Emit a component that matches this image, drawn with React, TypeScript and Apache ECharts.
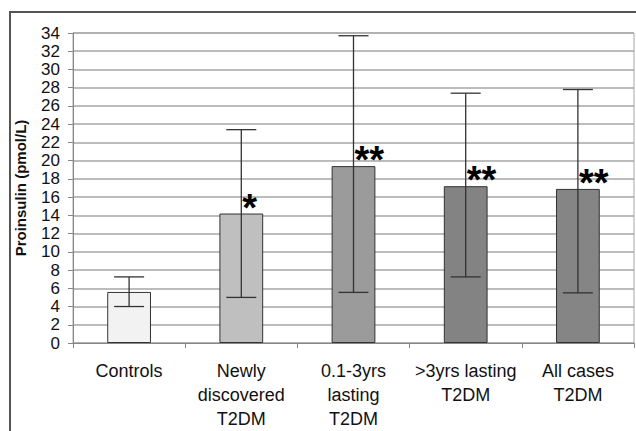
import React, { useEffect, useRef } from "react";
import * as echarts from "echarts";

const categories = [
  "Controls",
  "Newly\ndiscovered\nT2DM",
  "0.1-3yrs\nlasting\nT2DM",
  ">3yrs lasting\nT2DM",
  "All cases\nT2DM",
];
const means = [5.6, 14.2, 19.4, 17.2, 16.9];
const errLow = [4.0, 5.0, 5.55, 7.25, 5.5];
const errHigh = [7.25, 23.4, 33.7, 27.4, 27.8];
const significance = ["", "*", "**", "**", "**"];
const barColors = ["#f2f2f2", "#bfbfbf", "#9b9b9b", "#838383", "#858585"];
const yAxisTitle = "Proinsulin (pmol/L)";

const FONT = "'Liberation Sans', Arial, sans-serif";

export default function App() {
  const ref = useRef<HTMLDivElement>(null);
  useEffect(() => {
    document.body.style.margin = "0";
    const chart = echarts.init(ref.current!, null, { renderer: "svg" });
    const errStyle = { stroke: "#333", lineWidth: 1.3 };
    chart.setOption({
      animation: false,
      backgroundColor: "#ffffff",
      grid: {
        left: 73,
        right: 2,
        top: 33,
        bottom: 88,
        show: true,
        borderColor: "#a6a6a6",
        borderWidth: 1,
      },
      xAxis: {
        type: "category",
        data: categories,
        axisLine: { lineStyle: { color: "#888", width: 1 } },
        axisTick: { show: true, length: 5, lineStyle: { color: "#888" } },
        axisLabel: {
          interval: 0,
          margin: 16,
          fontSize: 18,
          lineHeight: 24,
          color: "#111",
          fontFamily: FONT,
        },
      },
      yAxis: {
        type: "value",
        min: 0,
        max: 34,
        interval: 2,
        name: yAxisTitle,
        nameLocation: "middle",
        nameRotate: 90,
        nameGap: 45,
        nameTextStyle: {
          fontSize: 15,
          fontWeight: "bold",
          color: "#111",
          fontFamily: FONT,
        },
        axisLine: { show: true, lineStyle: { color: "#888", width: 1 } },
        axisTick: { show: true, length: 5, lineStyle: { color: "#888" } },
        axisLabel: {
          margin: 13,
          fontSize: 17,
          color: "#111",
          fontFamily: FONT,
        },
        splitLine: { show: true, lineStyle: { color: "#a6a6a6", width: 1.5 } },
      },
      series: [
        {
          type: "bar",
          data: means.map((v, i) => ({
            value: v,
            itemStyle: { color: barColors[i] },
          })),
          barWidth: "39%",
          itemStyle: { borderColor: "#333", borderWidth: 1 },
          label: {
            show: true,
            formatter: (p: any) => significance[p.dataIndex],
            position: ["50%", 0],
            align: "left",
            verticalAlign: "middle",
            offset: [1, -6],
            fontSize: 38,
            fontWeight: "bold",
            color: "#000",
            fontFamily: FONT,
          },
          z: 2,
        },
        {
          type: "custom",
          z: 3,
          data: categories.map((_, i) => [i, errLow[i], errHigh[i]]),
          encode: { x: 0, y: [1, 2] },
          renderItem: (params: any, api: any) => {
            const x = api.value(0);
            const lo = api.coord([x, api.value(1)]);
            const hi = api.coord([x, api.value(2)]);
            const half = 15;
            return {
              type: "group",
              children: [
                { type: "line", shape: { x1: lo[0], y1: lo[1], x2: hi[0], y2: hi[1] }, style: errStyle },
                { type: "line", shape: { x1: lo[0] - half, y1: lo[1], x2: lo[0] + half, y2: lo[1] }, style: errStyle },
                { type: "line", shape: { x1: hi[0] - half, y1: hi[1], x2: hi[0] + half, y2: hi[1] }, style: errStyle },
              ],
            };
          },
        },
      ],
    });
    return () => chart.dispose();
  }, []);
  return (
    <div style={{ position: "relative", width: 636, height: 431, overflow: "hidden" }}>
      <div ref={ref} style={{ width: 636, height: 431 }} />
      <div
        style={{
          position: "absolute",
          left: 9,
          top: 11,
          width: 700,
          height: 500,
          borderLeft: "2px solid #555",
          borderTop: "2px solid #555",
          pointerEvents: "none",
        }}
      />
    </div>
  );
}
